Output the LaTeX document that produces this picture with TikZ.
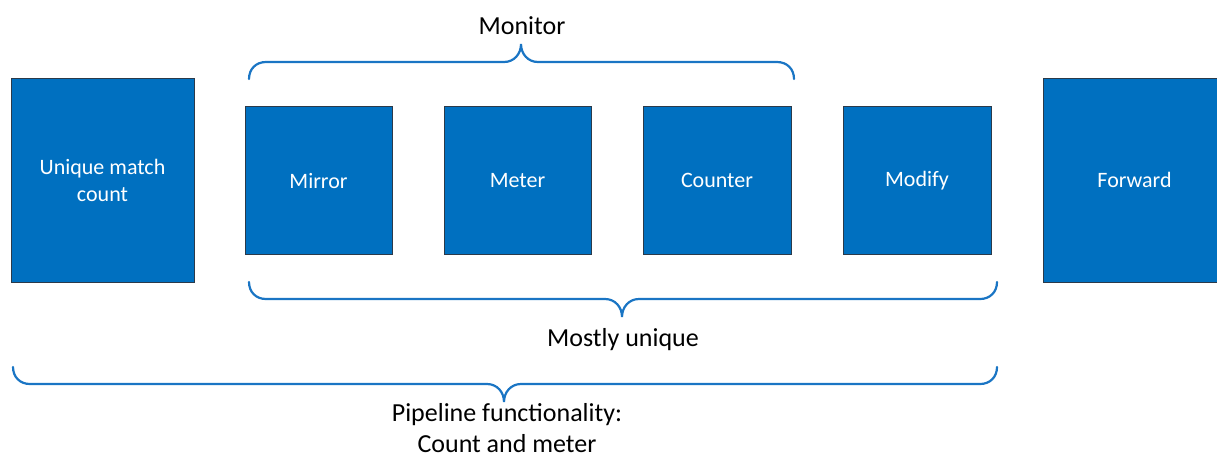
\documentclass[tikz,border=0pt]{standalone}
\usepackage{fontspec}
\setmainfont{Carlito}
\definecolor{boxblue}{HTML}{0070C0}
\definecolor{bracecol}{HTML}{1A75C4}
\definecolor{boxedge}{HTML}{2B3A4A}
\begin{document}
\begin{tikzpicture}[x=1pt,y=-1pt,
  blk/.style={draw=boxedge, line width=0.9pt, fill=boxblue, text=white, align=center,
    font=\fontsize{22}{27}\selectfont, inner sep=0pt},
  lbl/.style={text=black, align=center, font=\fontsize{26}{31}\selectfont, inner sep=0pt},
  brc/.style={draw=bracecol, line width=2.2pt, line cap=round}]
\useasboundingbox (0,0) rectangle (1217,459);
% boxes
\node[blk, minimum width=183pt, minimum height=204pt] (umc) at (102.5,180) {Unique match\\count};
\node[blk, minimum width=147pt, minimum height=148pt] (mir) at (318.5,180.5) {Mirror};
\node[blk, minimum width=147pt, minimum height=148pt] (met) at (517.5,180.5) {Meter};
\node[blk, minimum width=148pt, minimum height=148pt] (cnt) at (717,180.5) {Counter};
\node[blk, minimum width=148pt, minimum height=148pt] (mod) at (917,180.5) {Modify};
\node[blk, minimum width=183pt, minimum height=204pt] (fwd) at (1134.5,180) {Forward};
% labels
\node[lbl, anchor=base] (monl) at (522,34) {Monitor};
\node[lbl, anchor=base] (mosl) at (623,346) {Mostly unique};
\node[lbl, anchor=base] (pipl) at (507,452) {Pipeline functionality:\\Count and meter};
% braces
% Monitor (top): ends 79, line 62, tip 44
\draw[brc] (249,79) .. controls (249,69) and (256,62) .. (266,62) -- (504,62)
  .. controls (514,62) and (521,54) .. (521,44)
  .. controls (521,54) and (528,62) .. (538,62) -- (777,62)
  .. controls (787,62) and (794,69) .. (794,79);
% Mostly unique: ends 282, line 299, tip 317
\draw[brc] (249,282) .. controls (249,292) and (256,299) .. (266,299) -- (605,299)
  .. controls (615,299) and (622,307) .. (622,317)
  .. controls (622,307) and (629,299) .. (639,299) -- (980,299)
  .. controls (990,299) and (997,292) .. (997,282);
% Pipeline: ends 367, line 384, tip 402
\draw[brc] (13,367) .. controls (13,377) and (20,384) .. (30,384) -- (487,384)
  .. controls (497,384) and (504,392) .. (504,402)
  .. controls (504,392) and (511,384) .. (521,384) -- (980,384)
  .. controls (990,384) and (997,377) .. (997,367);
\end{tikzpicture}
\end{document}
